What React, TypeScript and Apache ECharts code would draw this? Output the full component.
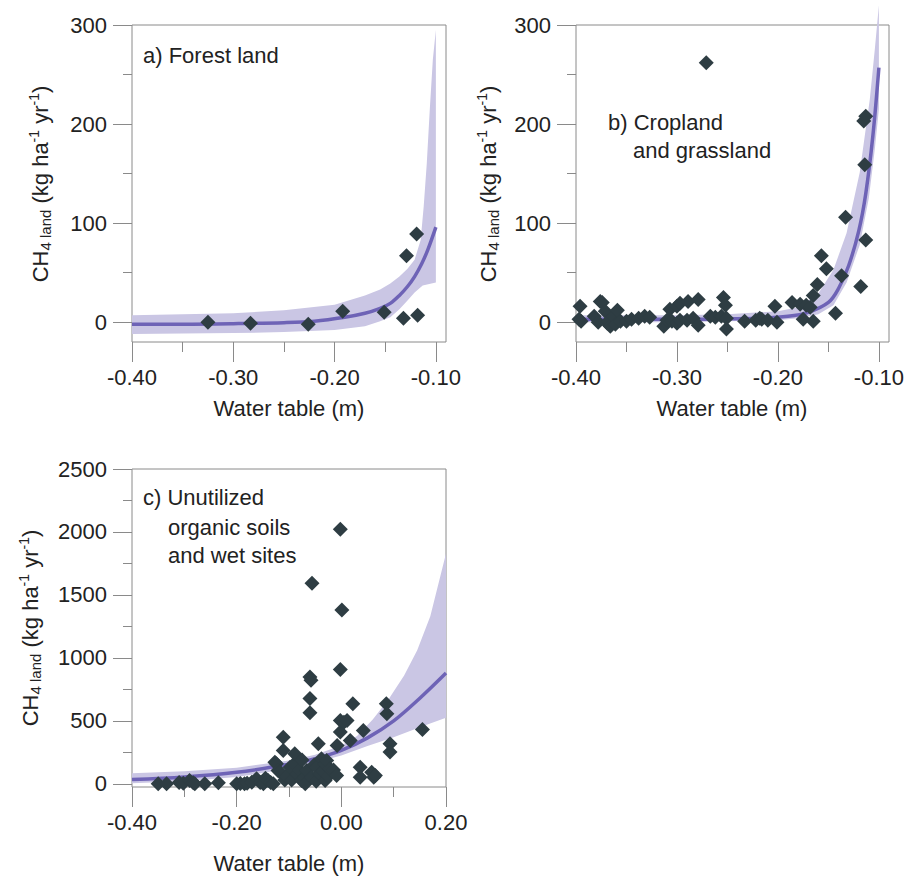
import React, { useEffect, useRef } from "react";
import * as echarts from "echarts";

// ---------- data ----------
// a) Forest land
const aScatter: number[][] = [
  [-0.325, 0], [-0.283, -1], [-0.226, -2], [-0.192, 11], [-0.151, 10],
  [-0.132, 4], [-0.118, 7], [-0.129, 67], [-0.119, 89],
];
const aLine: number[][] = [
  [-0.4, -2], [-0.35, -2], [-0.3, -1.5], [-0.25, -0.5], [-0.22, 1], [-0.19, 5],
  [-0.17, 9], [-0.155, 14], [-0.145, 19], [-0.136, 27], [-0.128, 36], [-0.121, 46],
  [-0.114, 59], [-0.108, 73], [-0.1, 96],
];
const aUpper: number[][] = [
  [-0.4, 7], [-0.3, 9], [-0.25, 12], [-0.2, 17.5], [-0.17, 27], [-0.155, 33],
  [-0.145, 39], [-0.136, 46], [-0.128, 54], [-0.121, 63], [-0.115, 83], [-0.112, 117],
  [-0.109, 160], [-0.106, 215], [-0.103, 265], [-0.1, 295],
];
const aLower: number[][] = [
  [-0.4, -12], [-0.3, -11], [-0.25, -10], [-0.2, -8], [-0.17, -4], [-0.155, 1],
  [-0.145, 5], [-0.136, 13], [-0.128, 22], [-0.121, 30], [-0.113, 37], [-0.1, 40],
];

// b) Cropland and grassland
const bScatter: number[][] = [
  [-0.396, 16], [-0.395, 1], [-0.397, 3], [-0.382, 6], [-0.378, 0], [-0.376, 21],
  [-0.374, 20], [-0.371, 11], [-0.369, -1], [-0.368, 1], [-0.366, -4], [-0.363, 6],
  [-0.361, -2], [-0.359, 12], [-0.356, 1], [-0.35, 1], [-0.345, 3], [-0.338, 4],
  [-0.332, 6], [-0.327, 5], [-0.313, -4], [-0.31, 2], [-0.307, 13], [-0.305, 1],
  [-0.3, 16], [-0.3, -1], [-0.297, 19], [-0.297, 2], [-0.29, 2], [-0.289, 21],
  [-0.284, 4], [-0.279, 23], [-0.279, -3], [-0.271, 262], [-0.267, 6], [-0.262, 5],
  [-0.256, 6], [-0.254, 25], [-0.252, 17], [-0.251, 4], [-0.251, -7], [-0.233, 1],
  [-0.222, 2], [-0.218, 4], [-0.216, 3], [-0.21, 2], [-0.203, 16], [-0.201, 0],
  [-0.186, 20], [-0.178, 18], [-0.172, 17], [-0.175, 3], [-0.168, 15], [-0.165, 1],
  [-0.165, 27], [-0.161, 38], [-0.157, 67], [-0.152, 54], [-0.143, 9], [-0.137, 47],
  [-0.133, 106], [-0.118, 36], [-0.113, 83], [-0.114, 159], [-0.115, 203], [-0.113, 208],
];
const bLine: number[][] = [
  [-0.4, 3], [-0.3, 3], [-0.25, 3.5], [-0.22, 4], [-0.19, 6], [-0.17, 10], [-0.15, 20],
  [-0.14, 34], [-0.13, 57], [-0.12, 92], [-0.113, 130], [-0.106, 188], [-0.1, 257],
];
const bUpper: number[][] = [
  [-0.4, 7], [-0.3, 7], [-0.25, 8], [-0.2, 11], [-0.18, 15], [-0.16, 29], [-0.145, 53],
  [-0.132, 90], [-0.119, 151], [-0.109, 225], [-0.104, 276], [-0.1, 320],
];
const bLower: number[][] = [
  [-0.4, 0], [-0.3, 0], [-0.25, 1], [-0.2, 2], [-0.18, 4], [-0.16, 8], [-0.145, 17],
  [-0.132, 40], [-0.119, 78], [-0.11, 125], [-0.104, 175], [-0.1, 215],
];

// c) Unutilized organic soils and wet sites
const cScatter: number[][] = [
  [-0.35, 0], [-0.334, 0], [-0.31, 10], [-0.302, 5], [-0.29, 26], [-0.283, 8], [-0.28, 0],
  [-0.261, 0], [-0.235, 8], [-0.2, 0], [-0.193, 3], [-0.185, 0], [-0.18, 5], [-0.171, 13],
  [-0.162, 40], [-0.155, 10], [-0.149, 0], [-0.145, 45], [-0.14, 26], [-0.135, 10],
  [-0.13, 0], [-0.127, 172], [-0.124, 159], [-0.121, 106], [-0.117, 92], [-0.111, 371],
  [-0.111, 265], [-0.108, 30], [-0.105, 60], [-0.098, 132], [-0.095, 30], [-0.09, 160],
  [-0.089, 239], [-0.085, 80], [-0.08, 110], [-0.076, 26], [-0.075, 190], [-0.07, 50],
  [-0.069, 0], [-0.066, 106], [-0.06, 849], [-0.058, 822], [-0.06, 677], [-0.06, 565],
  [-0.056, 1592], [-0.057, 53], [-0.052, 150], [-0.048, 20], [-0.047, 132], [-0.044, 318],
  [-0.041, 80], [-0.038, 200], [-0.035, 100], [-0.031, 26], [-0.031, 159], [-0.028, 186],
  [-0.025, 60], [-0.022, 119], [-0.015, 110], [-0.009, 66], [-0.008, 305], [-0.002, 2022],
  [0.001, 1380], [-0.002, 908], [-0.002, 411], [-0.002, 504], [0.005, 490], [0.011, 504],
  [0.017, 345], [0.022, 637], [0.036, 132], [0.036, 53], [0.042, 424], [0.058, 92],
  [0.062, 53], [0.065, 66], [0.086, 637], [0.087, 557], [0.093, 318], [0.093, 252],
  [0.155, 432],
];
const cLine: number[][] = [
  [-0.4, 35], [-0.3, 55], [-0.2, 92], [-0.1, 155], [-0.05, 200], [0, 265],
  [0.05, 365], [0.1, 500], [0.15, 680], [0.2, 880],
];
const cUpper: number[][] = [
  [-0.4, 85], [-0.3, 100], [-0.2, 128], [-0.1, 185], [-0.05, 232], [0, 305],
  [0.03, 380], [0.06, 510], [0.09, 670], [0.12, 860], [0.145, 1060], [0.17, 1330], [0.2, 1830],
];
const cLower: number[][] = [
  [-0.4, 5], [-0.3, 20], [-0.2, 55], [-0.1, 120], [-0.05, 170], [0, 225],
  [0.05, 300], [0.1, 370], [0.15, 450], [0.2, 525],
];

// tick values
const abXMajor = [-0.4, -0.3, -0.2, -0.1];
const abXMinor = [-0.35, -0.25, -0.15];
const abYMajor = [0, 100, 200, 300];
const abYMinor = [50, 150, 250];
const cXMajor = [-0.4, -0.2, 0, 0.2];
const cXMinor = [-0.3, -0.1, 0.1];
const cYMajor = [0, 500, 1000, 1500, 2000, 2500];
const cYMinor = [250, 750, 1250, 1750, 2250];

// ---------- styles ----------
const FONT = '"Liberation Sans", Arial, sans-serif';
const FRAME = "#8a8a8a";
const TEXT = "#222";
const DOT = "#2e3d43";
const LINE = "#6e63b6";
const BAND = "#cac6e4";

function xAxes(grid: number, min: number, max: number, major: number[], minor: number[]) {
  return [
    {
      type: "value", gridIndex: grid, min, max, position: "bottom",
      axisLine: { show: false, onZero: false }, splitLine: { show: false },
      axisTick: { show: true, length: 20, customValues: major, lineStyle: { color: FRAME, width: 1 } },
      axisLabel: {
        customValues: major, formatter: (v: number) => v.toFixed(2),
        fontSize: 22, color: TEXT, fontFamily: FONT, margin: 24,
      },
    },
    {
      type: "value", gridIndex: grid, min, max, position: "bottom",
      axisLine: { show: false, onZero: false }, splitLine: { show: false },
      axisTick: { show: true, length: 10, customValues: minor, lineStyle: { color: FRAME, width: 1 } },
      axisLabel: { show: false },
    },
  ];
}
function yAxes(grid: number, min: number, max: number, major: number[], minor: number[]) {
  return [
    {
      type: "value", gridIndex: grid, min, max, position: "left",
      axisLine: { show: false, onZero: false }, splitLine: { show: false },
      axisTick: { show: true, length: 19, customValues: major, lineStyle: { color: FRAME, width: 1 } },
      axisLabel: {
        customValues: major, formatter: (v: number) => String(Math.round(v)),
        fontSize: 22, color: TEXT, fontFamily: FONT, margin: 25,
      },
    },
    {
      type: "value", gridIndex: grid, min, max, position: "left",
      axisLine: { show: false, onZero: false }, splitLine: { show: false },
      axisTick: { show: true, length: 9, customValues: minor, lineStyle: { color: FRAME, width: 1 } },
      axisLabel: { show: false },
    },
  ];
}

function band(axis: number, upper: number[][], lower: number[][]) {
  return {
    type: "custom", xAxisIndex: axis, yAxisIndex: axis, clip: false, silent: true, z: 1,
    data: upper,
    renderItem: (params: any, api: any) => {
      if (params.dataIndex !== 0) return null;
      const pts = upper.map((p) => api.coord(p)).concat(
        lower.slice().reverse().map((p) => api.coord(p))
      );
      return { type: "polygon", shape: { points: pts }, style: { fill: BAND } };
    },
  };
}
function fit(axis: number, data: number[][]) {
  return {
    type: "line", xAxisIndex: axis, yAxisIndex: axis, data, smooth: 0.35, showSymbol: false,
    symbol: "none", z: 2, lineStyle: { color: LINE, width: 3.5 }, silent: true,
  };
}
function dots(axis: number, data: number[][]) {
  return {
    type: "scatter", xAxisIndex: axis, yAxisIndex: axis, data, symbol: "diamond",
    symbolSize: 15, z: 3, itemStyle: { color: DOT, opacity: 1 }, silent: true,
  };
}

const yTitleRich = {
  n: { fontSize: 22, fontFamily: FONT, fill: TEXT, lineHeight: 26 },
  s: { fontSize: 15, fontFamily: FONT, fill: TEXT, lineHeight: 12, verticalAlign: "bottom" },
  p: { fontSize: 14, fontFamily: FONT, fill: TEXT, lineHeight: 14, verticalAlign: "top" },
};
function yTitle(x: number, y: number) {
  return {
    type: "text", x, y, rotation: Math.PI / 2, silent: true,
    style: {
      text: "{n|CH}{s|4 land}{n| (kg ha}{p|-1}{n| yr}{p|-1}{n|)}",
      rich: yTitleRich, align: "center", verticalAlign: "middle",
    },
  };
}
function label(x: number, y: number, text: string, align = "left") {
  return {
    type: "text", x, y, silent: true,
    style: { text, fontSize: 22, fontFamily: FONT, fill: TEXT, align, verticalAlign: "middle" },
  };
}

export default function App() {
  const ref = useRef<HTMLDivElement>(null);
  useEffect(() => {
    if (!ref.current) return;
    const chart = echarts.init(ref.current, undefined, { renderer: "svg" });
    const gridStyle = { show: true, borderColor: FRAME, borderWidth: 1, backgroundColor: "transparent" };
    chart.setOption({
      animation: false,
      grid: [
        { left: 132, top: 25, width: 314, height: 317, ...gridStyle },
        { left: 576, top: 25, width: 313, height: 317, ...gridStyle },
        { left: 132, top: 469, width: 314, height: 318, ...gridStyle },
      ],
      xAxis: [
        ...xAxes(0, -0.4, -0.09, abXMajor, abXMinor),
        ...xAxes(1, -0.4, -0.09, abXMajor, abXMinor),
        ...xAxes(2, -0.4, 0.2, cXMajor, cXMinor),
      ],
      yAxis: [
        ...yAxes(0, -20, 300, abYMajor, abYMinor),
        ...yAxes(1, -20, 300, abYMajor, abYMinor),
        ...yAxes(2, -25, 2500, cYMajor, cYMinor),
      ],
      series: [
        band(0, aUpper, aLower), fit(0, aLine), dots(0, aScatter),
        band(2, bUpper, bLower), fit(2, bLine), dots(2, bScatter),
        band(4, cUpper, cLower), fit(4, cLine), dots(4, cScatter),
      ],
      graphic: [
        yTitle(40, 184), yTitle(488, 184), yTitle(30, 628),
        label(289, 408, "Water table (m)", "center"),
        label(732, 408, "Water table (m)", "center"),
        label(289, 863, "Water table (m)", "center"),
        label(143, 55, "a) Forest land"),
        label(608, 122, "b) Cropland"),
        label(633, 150, "and grassland"),
        label(143, 497, "c) Unutilized"),
        label(168, 527, "organic soils"),
        label(168, 555, "and wet sites"),
      ],
    });
    return () => chart.dispose();
  }, []);
  return (
    <div
      ref={ref}
      style={{ position: "fixed", left: 0, top: 0, width: 915, height: 876, background: "#fff" }}
    />
  );
}
